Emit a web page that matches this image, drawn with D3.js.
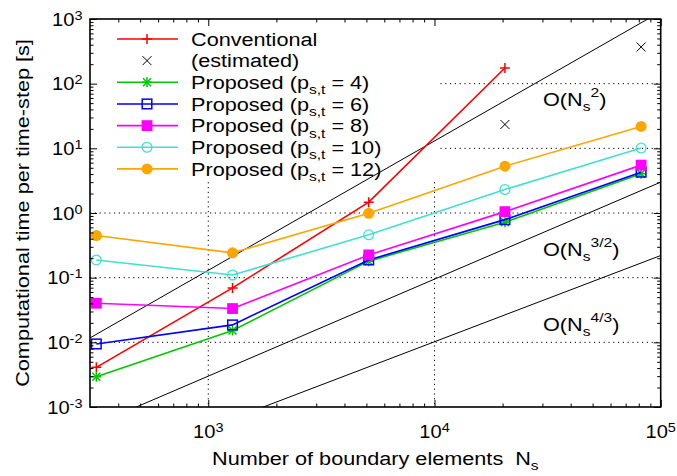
<!DOCTYPE html>
<html>
<head>
<meta charset="utf-8">
<script src="https://cdn.jsdelivr.net/npm/d3@7"></script>
<style>
  body { margin: 0; background: #fff; }
  svg { display: block; }
  text { font-family: "Liberation Sans", Arial, Helvetica, sans-serif; fill: #000; }
</style>
</head>
<body>
<svg id="chart" width="677" height="476"></svg>
<script>
// Problem sizes (number of boundary elements)
const sizes = [320, 1280, 5120, 20480, 81920];
// Measured time per time-step [s]
const conventional = [0.0041, 0.0695, 1.47, 175];
const estimatedSizes = [20480, 81920];
const estimated = [23.4, 369];
const proposedP4 = [0.00294, 0.0152, 0.180, 0.72, 4.05];
const proposedP6 = [0.00944, 0.0186, 0.188, 0.79, 4.28];
const proposedP8 = [0.0402, 0.0333, 0.225, 1.05, 5.5];
const proposedP10 = [0.188, 0.110, 0.46, 2.31, 10.1];
const proposedP12 = [0.449, 0.242, 0.99, 5.3, 21.8];
const proposedOrders = ["4", "6", "8", "10", "12"];

// Axis ticks
const xMajor = [1e3, 1e4, 1e5];
const xExponents = ["3", "4", "5"];
const yMajor = [1e-3, 1e-2, 1e-1, 1e0, 1e1, 1e2, 1e3];
const yExponents = ["-3", "-2", "-1", "0", "1", "2", "3"];

// Complexity guide lines  t = c * N^k
const guideExponents = [2, 1.5, 4 / 3];
const guideCoefficients = [1.3e-7, 9.49e-8, 4.74e-8];
const guideLabels = ["2", "3/2", "4/3"];

const svg = d3.select("#chart");
const L = 90, R = 660.7, T = 19, B = 407;
const x = d3.scaleLog().domain([300, 1e5]).range([L, R]);
const y = d3.scaleLog().domain([1e-3, 1e3]).range([B, T]);

const FS = 19, SX = 1.14;

// text with sub/superscript parts, stretched horizontally
function rich(parent, px, py, parts, opt = {}) {
  const size = opt.size || FS, sx = opt.sx || SX;
  const t = parent.append("text")
    .attr("transform", `translate(${px},${py})` + (opt.rotate ? ` rotate(${opt.rotate})` : "") + ` scale(${sx},1)`)
    .attr("text-anchor", opt.anchor || "start")
    .style("white-space", "pre")
    .style("font-size", size + "px");
  let cur = 0;
  parts.forEach(p => {
    const shift = p.sup ? -(opt.supShift || 0.42) * size : p.sub ? 0.27 * size : 0;
    const ts = t.append("tspan").text(p.t).attr("dy", shift - cur);
    if (p.sup || p.sub) ts.style("font-size", (size * 0.72) + "px");
    cur = shift;
  });
  return t;
}

svg.append("defs").append("clipPath").attr("id", "plotClip")
  .append("rect").attr("x", L).attr("y", T).attr("width", R - L).attr("height", B - T);

// dotted grid
const grid = svg.append("g").attr("stroke", "#000").attr("stroke-width", 1).attr("stroke-dasharray", "1.2,3.6");
[1e3, 1e4].forEach(v => grid.append("line").attr("x1", x(v)).attr("x2", x(v)).attr("y1", T).attr("y2", B));
[1e-2, 1e-1, 1e0, 1e1, 1e2].forEach(v => grid.append("line").attr("x1", L).attr("x2", R).attr("y1", y(v)).attr("y2", y(v)));

// opaque key background
svg.append("rect").attr("x", L + 1).attr("y", T + 1).attr("width", 346).attr("height", 159).attr("fill", "#fff");

// guide lines
const plot = svg.append("g").attr("clip-path", "url(#plotClip)");
guideExponents.forEach((k, i) => {
  const f = n => guideCoefficients[i] * Math.pow(n, k);
  plot.append("line")
    .attr("x1", x(300)).attr("y1", y(f(300)))
    .attr("x2", x(1e5)).attr("y2", y(f(1e5)))
    .attr("stroke", "#000").attr("stroke-width", 1);
});
const guideBaselines = [106, 255.7, 330.5];
guideLabels.forEach((lab, i) => {
  rich(svg, 543, guideBaselines[i], [{ t: "O(N" }, { t: "s", sub: true }, { t: lab, sup: true }, { t: ")" }], { supShift: 0.45 });
});

// markers
function marker(g, type, cx, cy, color) {
  const h = 5;
  if (type === "plus" || type === "star") {
    g.append("path").attr("d", `M${cx - h},${cy}H${cx + h}M${cx},${cy - h}V${cy + h}`)
      .attr("stroke", color).attr("stroke-width", 1.5).attr("fill", "none");
  }
  if (type === "cross" || type === "star") {
    const c = type === "star" ? 4 : 4.5;
    g.append("path").attr("d", `M${cx - c},${cy - c}L${cx + c},${cy + c}M${cx - c},${cy + c}L${cx + c},${cy - c}`)
      .attr("stroke", color).attr("stroke-width", type === "star" ? 1.5 : 1).attr("fill", "none");
  }
  if (type === "square") {
    g.append("rect").attr("x", cx - 4.8).attr("y", cy - 4.8).attr("width", 9.6).attr("height", 9.6)
      .attr("fill", "none").attr("stroke", color).attr("stroke-width", 1.5);
  }
  if (type === "fsquare") {
    g.append("rect").attr("x", cx - 5.4).attr("y", cy - 5.4).attr("width", 10.8).attr("height", 10.8).attr("fill", color);
  }
  if (type === "circle") {
    g.append("circle").attr("cx", cx).attr("cy", cy).attr("r", 4.9)
      .attr("fill", "none").attr("stroke", color).attr("stroke-width", 1.3);
  }
  if (type === "fcircle") {
    g.append("circle").attr("cx", cx).attr("cy", cy).attr("r", 5.5).attr("fill", color);
  }
}

const series = [
  { xs: sizes, ys: conventional, color: "#ff0000", mk: "plus", label: [{ t: "Conventional" }] },
  { xs: estimatedSizes, ys: estimated, color: "#000000", mk: "cross", noLine: true, label: [{ t: "(estimated)" }] },
  { xs: sizes, ys: proposedP4, color: "#00c800", mk: "star" },
  { xs: sizes, ys: proposedP6, color: "#0000ff", mk: "square" },
  { xs: sizes, ys: proposedP8, color: "#ff00ff", mk: "fsquare" },
  { xs: sizes, ys: proposedP10, color: "#40e0d0", mk: "circle" },
  { xs: sizes, ys: proposedP12, color: "#ffa500", mk: "fcircle" }
];
series.slice(2).forEach((s, i) => {
  s.label = [{ t: "Proposed (p" }, { t: "s,t", sub: true }, { t: " = " + proposedOrders[i] + ")" }];
});

const line = d3.line().x(d => x(d[0])).y(d => y(d[1]));
series.forEach(s => {
  const pts = s.ys.map((v, i) => [s.xs[i], v]);
  const g = svg.append("g");
  if (!s.noLine) g.append("path").attr("d", line(pts)).attr("fill", "none")
    .attr("stroke", s.color).attr("stroke-width", 1.6);
  pts.forEach(p => marker(g, s.mk, x(p[0]), y(p[1]), s.color));
});

// key
const key = svg.append("g");
series.forEach((s, i) => {
  const ry = 39 + i * 21.65;
  if (!s.noLine) key.append("line").attr("x1", 117).attr("x2", 178).attr("y1", ry).attr("y2", ry)
    .attr("stroke", s.color).attr("stroke-width", 1.6);
  marker(key, s.mk, 147, ry, s.color);
  rich(key, 191, ry + 6.8, s.label);
});

// frame and ticks
svg.append("rect").attr("x", L).attr("y", T).attr("width", R - L).attr("height", B - T)
  .attr("fill", "none").attr("stroke", "#000").attr("stroke-width", 1.6);

function minorTicks(lo, hi) {
  const out = [];
  for (let e = -4; e < 6; e++) for (let m = 2; m < 10; m++) {
    const v = m * Math.pow(10, e);
    if (v > lo * 1.0001 && v < hi * 0.9999) out.push(v);
  }
  return out;
}
const xMinor = minorTicks(300, 1e5), yMinor = minorTicks(1e-3, 1e3);
function tickAxis(axis, vals, size, tx, ty) {
  const g = svg.append("g").attr("transform", `translate(${tx},${ty})`)
    .call(axis.tickValues(vals).tickSize(size).tickFormat(""));
  g.select(".domain").remove();
  g.selectAll("line").attr("stroke", "#000").attr("stroke-width", 1);
}
tickAxis(d3.axisBottom(x), xMajor, -7, 0, B);
tickAxis(d3.axisBottom(x), xMinor, -3.5, 0, B);
tickAxis(d3.axisTop(x), xMajor, -7, 0, T);
tickAxis(d3.axisTop(x), xMinor, -3.5, 0, T);
tickAxis(d3.axisLeft(y), yMajor, -7, L, 0);
tickAxis(d3.axisLeft(y), yMinor, -3.5, L, 0);
tickAxis(d3.axisRight(y), yMajor, -7, R, 0);
tickAxis(d3.axisRight(y), yMinor, -3.5, R, 0);

// tick labels
xMajor.forEach((v, i) => {
  rich(svg, x(v), 438, [{ t: "10" }, { t: xExponents[i], sup: true }], { anchor: "middle", sx: 1.06, supShift: 0.33 });
});
yMajor.forEach((v, i) => {
  rich(svg, 82.5, y(v) + 6.8, [{ t: "10" }, { t: yExponents[i], sup: true }], { anchor: "end", sx: 1.06, supShift: 0.33 });
});

// axis titles
rich(svg, (L + R) / 2, 465, [{ t: "Number of boundary elements\u00a0\u00a0N" }, { t: "s", sub: true }], { anchor: "middle" });
rich(svg, 28.5, (T + B) / 2, [{ t: "Computational time per time-step [s]" }], { anchor: "middle", rotate: -90 });
</script>
</body>
</html>
